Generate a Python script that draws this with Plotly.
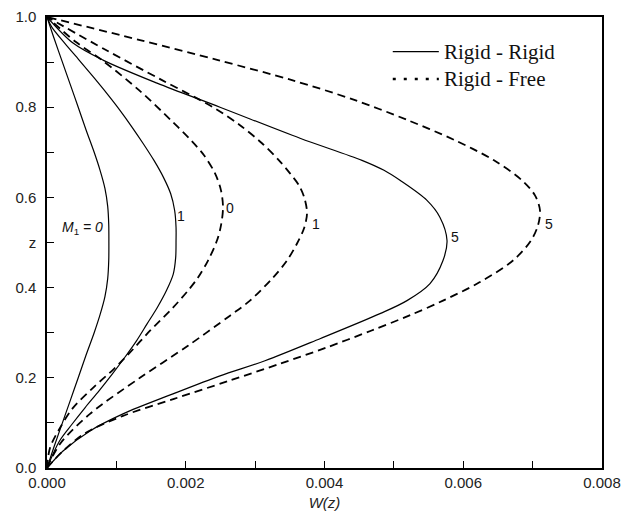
import plotly.graph_objects as go

# Vertical velocity profiles W(z) for several M1 values
# Rigid-Rigid boundaries (solid lines)
rr_m0_z = [0, 0.05, 0.10, 0.15, 0.20, 0.25, 0.30, 0.34, 0.38, 0.42, 0.46, 0.50,
           0.54, 0.58, 0.62, 0.66, 0.70, 0.75, 0.80, 0.85, 0.90, 0.95, 1.0]
rr_m0_w = [0, 0.000108, 0.000222, 0.000336, 0.00045, 0.000562, 0.00068, 0.000765, 0.000835,
           0.000875, 0.00089, 0.000892, 0.00089, 0.000875, 0.000835, 0.000765, 0.00068,
           0.000562, 0.00045, 0.000336, 0.000222, 0.000108, 0]

rr_m1_z = [0, 0.06, 0.097, 0.134, 0.171, 0.208, 0.245, 0.282, 0.319, 0.356, 0.393, 0.43, 0.467,
           0.504, 0.534, 0.571, 0.608, 0.645, 0.682, 0.719, 0.756, 0.793, 0.83, 0.867, 0.904,
           0.941, 0.978, 1.0]
rr_m1_w = [0, 0.00018, 0.00036, 0.00055, 0.00075, 0.00094, 0.00112, 0.00129, 0.00144, 0.00159,
           0.00172, 0.00182, 0.001855, 0.00186, 0.00186, 0.00184, 0.001783, 0.001677, 0.001542,
           0.001388, 0.001225, 0.001052, 0.000865, 0.000668, 0.000466, 0.00026, 0.000067, 0]

rr_m5_z = [0, 0.0378, 0.0822, 0.12, 0.1644, 0.2044, 0.2378, 0.2867, 0.3422, 0.3711, 0.4089,
           0.46, 0.5044, 0.5556, 0.5933, 0.6378, 0.66, 0.6822, 0.7311, 0.8, 0.8533, 0.9044,
           0.9422, 1.0]
rr_m5_w = [0, 0.000231, 0.00062, 0.001095, 0.001816, 0.002494, 0.003142, 0.003935, 0.0048,
           0.005189, 0.005521, 0.005708, 0.005766, 0.005665, 0.005477, 0.005088, 0.004858,
           0.00454, 0.003647, 0.002494, 0.001586, 0.000807, 0.000375, 0]

# Rigid-Free boundaries (dashed lines)
rf_m0_z = [0, 0.0444, 0.0889, 0.1333, 0.1778, 0.22, 0.2489, 0.3044, 0.3556, 0.3933, 0.4222,
           0.46, 0.5044, 0.5378, 0.5778, 0.6156, 0.6533, 0.6933, 0.7267, 0.7711, 0.8378,
           0.9044, 0.9444, 1.0]
rf_m0_w = [0, 0.000043, 0.000187, 0.000375, 0.000663, 0.000966, 0.001153, 0.001485, 0.001816,
           0.002032, 0.002177, 0.002321, 0.00245, 0.002508, 0.002537, 0.002508, 0.002422,
           0.002263, 0.002076, 0.001787, 0.001326, 0.000793, 0.000418, 0]

rf_m1_z = [0, 0.0533, 0.12, 0.2, 0.2711, 0.3378, 0.3711, 0.4222, 0.46, 0.4978, 0.5311, 0.5644,
           0.5978, 0.6267, 0.6533, 0.6822, 0.72, 0.76, 0.8, 0.86, 0.9267, 1.0]
rf_m1_w = [0, 0.000187, 0.00062, 0.00134, 0.002032, 0.002638, 0.002926, 0.003258, 0.003459,
           0.003604, 0.003704, 0.003748, 0.003712, 0.003632, 0.003503, 0.003344, 0.003099,
           0.002782, 0.002393, 0.001658, 0.00085, 0]

rf_m5_z = [0, 0.0311, 0.0756, 0.1156, 0.1533, 0.1933, 0.2311, 0.2667, 0.3044, 0.3378, 0.3711,
           0.4111, 0.46, 0.5044, 0.5378, 0.5711, 0.6044, 0.6378, 0.6822, 0.7267, 0.7711, 0.8156,
           0.86, 0.9044, 0.9489, 1.0]
rf_m5_w = [0, 0.000187, 0.000533, 0.001095, 0.001831, 0.002623, 0.003358, 0.004022, 0.00467,
           0.005218, 0.005708, 0.006227, 0.006717, 0.006976, 0.007077, 0.007106, 0.007034,
           0.006847, 0.006443, 0.005881, 0.005203, 0.00444, 0.003531, 0.002465, 0.00134, 0]

# Curve labels: (text, W, z)
curve_labels = [
    ("1", 0.00193, 0.558),
    ("0", 0.00264, 0.576),
    ("1", 0.00388, 0.542),
    ("5", 0.00588, 0.513),
    ("5", 0.00724, 0.542),
]
m1_label = ("<i>M</i><sub>1</sub><i> = 0</i>", 0.000505, 0.533)

legend_names = ["Rigid - Rigid", "Rigid - Free"]

x_ticks = [0, 0.002, 0.004, 0.006, 0.008]
x_ticktext = ["0.000", "0.002", "0.004", "0.006", "0.008"]
y_ticks = [0, 0.2, 0.4, 0.5, 0.6, 0.8, 1.0]
y_ticktext = ["0.0", "0.2", "0.4", "z", "0.6", "0.8", "1.0"]

fig = go.Figure()

solid = dict(color="black", width=1.2, shape="spline", smoothing=0.9)
dashed = dict(color="black", width=1.8, dash="8px,5px", shape="spline", smoothing=0.9)

for w, z in [(rr_m0_w, rr_m0_z), (rr_m1_w, rr_m1_z), (rr_m5_w, rr_m5_z)]:
    fig.add_trace(go.Scatter(x=w, y=z, mode="lines", line=solid,
                             showlegend=False, hoverinfo="skip"))
for w, z in [(rf_m0_w, rf_m0_z), (rf_m1_w, rf_m1_z), (rf_m5_w, rf_m5_z)]:
    fig.add_trace(go.Scatter(x=w, y=z, mode="lines", line=dashed,
                             showlegend=False, hoverinfo="skip"))

label_font = dict(family="Liberation Sans, Arial", size=14, color="#111")
for text, w, z in curve_labels:
    fig.add_annotation(x=w, y=z, text=text, showarrow=False, font=label_font)
fig.add_annotation(x=m1_label[1], y=m1_label[2], text=m1_label[0], showarrow=False, font=label_font)

# Key in the upper right corner (paper coordinates)
key_font = dict(family="Liberation Serif, Times New Roman", size=21, color="#111")
key_rows = [(0.9233, dict(color="black", width=1.3)),
            (0.8625, dict(color="black", width=2.6, dash="3px,8px"))]
for name, (ky, kline) in zip(legend_names, key_rows):
    fig.add_shape(type="line", xref="paper", yref="paper", x0=0.623, x1=0.706, y0=ky, y1=ky,
                  line=kline)
    fig.add_annotation(xref="paper", yref="paper", x=0.712, y=ky, xanchor="left", yanchor="middle",
                       text=name, showarrow=False, font=key_font)

axis_common = dict(showline=True, linecolor="black", linewidth=1.5, mirror=True,
                   ticks="inside", ticklen=7, tickwidth=1.2, tickcolor="black",
                   showgrid=False, zeroline=False, automargin=False,
                   tickfont=dict(family="Liberation Sans, Arial", size=15, color="#222"))

fig.update_xaxes(range=[0, 0.008], tickvals=x_ticks, ticktext=x_ticktext,
                 minor=dict(tickvals=[0.001, 0.003, 0.005, 0.007], ticks="inside", ticklen=7,
                            tickwidth=1.2, tickcolor="black"),
                 title=dict(text="<i>W(z)</i>", font=dict(family="Liberation Sans, Arial", size=15, color="#222"),
                            standoff=8),
                 **axis_common)
fig.update_yaxes(range=[0, 1.0], tickvals=y_ticks, ticktext=y_ticktext,
                 minor=dict(tickvals=[0.1, 0.3, 0.7, 0.9], ticks="inside", ticklen=7, tickwidth=1.2,
                            tickcolor="black"),
                 ticklabelstandoff=6,
                 **axis_common)

fig.update_layout(
    width=633, height=520,
    margin=dict(l=47, r=31, t=17, b=52),
    plot_bgcolor="white", paper_bgcolor="white",
    showlegend=False,
)

fig.write_html("out.html")
